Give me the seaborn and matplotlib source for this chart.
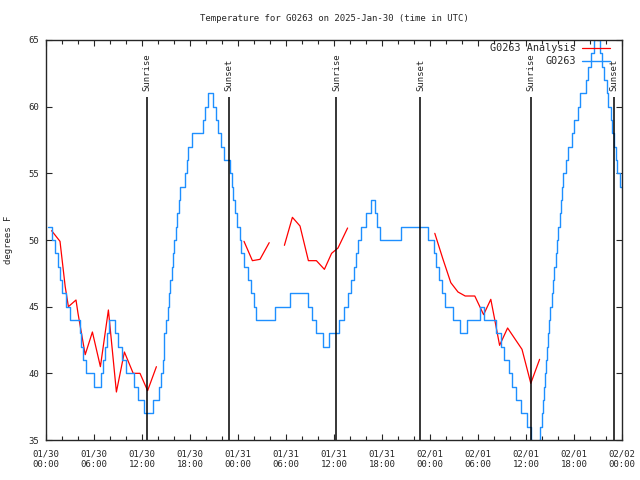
import numpy as np
import pandas as pd
import matplotlib
matplotlib.use("Agg")
import matplotlib.pyplot as plt
import seaborn as sns

# G0263 observations: change points (hours since 01/30 00:00 UTC, deg F)
obs_hours = [0.3, 0.7, 1.1, 1.5, 1.7, 2.0, 2.5, 3.0, 4.2, 4.4, 4.6, 5.0, 6.0, 6.9, 7.1,
             7.4, 7.6, 7.9, 8.6, 9.0, 9.5, 10.0, 11.0, 11.5, 12.3, 13.4, 14.1, 14.4, 14.6,
             14.8, 15.0, 15.2, 15.4, 15.5, 15.7, 15.9, 16.0, 16.2, 16.4, 16.6, 16.8, 17.4,
             17.6, 17.8, 18.3, 19.6, 19.9, 20.3, 20.9, 21.2, 21.5, 21.9, 22.3, 23.0, 23.2,
             23.4, 23.6, 23.9, 24.2, 24.4, 24.8, 25.2, 25.6, 26.0, 26.3, 28.6, 30.5, 32.7,
             33.2, 33.8, 34.6, 35.4, 36.6, 37.3, 37.7, 38.1, 38.5, 38.8, 39.0, 39.4, 40.0,
             40.6, 41.1, 41.4, 41.8, 44.4, 47.8, 48.5, 48.8, 49.1, 49.5, 49.9, 50.9, 51.8,
             52.6, 54.3, 54.8, 56.3, 56.9, 57.3, 57.9, 58.3, 58.7, 59.4, 60.1, 60.6, 60.8,
             61.6, 61.8, 61.95, 62.1, 62.3, 62.4, 62.5, 62.65, 62.75, 62.85, 63.0, 63.2,
             63.35, 63.5, 63.7, 63.85, 64.0, 64.2, 64.4, 64.5, 64.6, 65.0, 65.2, 65.7, 66.0,
             66.5, 66.8, 67.5, 67.8, 68.1, 68.5, 68.6, 68.9, 69.2, 69.5, 69.8, 70.1, 70.3,
             70.6, 70.8, 71.0, 71.2, 71.4, 71.7, 72.0]
obs_temps = [51, 50, 49, 48, 47, 46, 45, 44, 43, 42, 41, 40, 39, 40, 41,
             42, 43, 44, 43, 42, 41, 40, 39, 38, 37, 38, 39, 40, 41,
             43, 44, 45, 46, 47, 48, 49, 50, 51, 52, 53, 54, 55,
             56, 57, 58, 59, 60, 61, 60, 59, 58, 57, 56, 55, 54,
             53, 52, 51, 50, 49, 48, 47, 46, 45, 44, 45, 46, 45,
             44, 43, 42, 43, 44, 45, 46, 47, 48, 49, 50, 51, 52,
             53, 52, 51, 50, 51, 50, 49, 48, 47, 46, 45, 44, 43,
             44, 45, 44, 43, 42, 41, 40, 39, 38, 37, 36, 35, 34,
             35, 36, 37, 38, 39, 40, 41, 42, 43, 44, 45, 46,
             47, 48, 49, 50, 51, 52, 53, 54, 55, 56, 57, 58, 59,
             60, 61, 62, 63, 64, 65, 66, 65, 64, 63, 62, 61, 60,
             59, 58, 57, 56, 55, 54, 54]

# G0263 Analysis: hourly-ish points, split into segments where data is missing
ana_hours = [0.7, 1.75, 2.4, 2.8, 3.75, 4.0, 4.9, 5.8, 6.8, 7.8, 8.8, 9.8, 10.9, 11.75, 12.7, 13.8,
             24.75, 25.8, 26.75, 27.9,
             29.8, 30.8, 31.75, 32.8, 33.8, 34.8, 35.7, 36.5, 37.7,
             48.6, 49.6, 50.6, 51.5, 52.4, 53.6, 54.7, 55.6, 56.1, 56.7, 57.7, 59.5, 60.6, 61.7]
ana_temps = [50.7, 49.9, 46.5, 45.0, 45.5, 44.5, 41.4, 43.1, 40.5, 44.75, 38.6, 41.6, 40.0, 40.0, 38.7, 40.5,
             49.9, 48.45, 48.55, 49.8,
             49.6, 51.7, 51.05, 48.45, 48.45, 47.8, 49.0, 49.4, 50.9,
             50.5, 48.6, 46.8, 46.1, 45.8, 45.8, 44.4, 45.55, 44.0, 42.1, 43.4, 41.8, 39.25, 41.05]
ana_segment = [1] * 16 + [2] * 4 + [3] * 9 + [4] * 14

# sunrise / sunset times (hours)
event_hours = [12.67, 22.9, 36.3, 46.8, 60.6, 71.0]
event_names = ["Sunrise", "Sunset", "Sunrise", "Sunset", "Sunrise", "Sunset"]

tick_hours = [0, 6, 12, 18, 24, 30, 36, 42, 48, 54, 60, 66, 72]
tick_labels = ["01/30\n00:00", "01/30\n06:00", "01/30\n12:00", "01/30\n18:00",
               "01/31\n00:00", "01/31\n06:00", "01/31\n12:00", "01/31\n18:00",
               "02/01\n00:00", "02/01\n06:00", "02/01\n12:00", "02/01\n18:00",
               "02/02\n00:00"]

sns.set_style("ticks")
plt.rcParams["font.family"] = ["DejaVu Sans Mono"]
fs = 6.5

obs = pd.DataFrame({"hour": obs_hours, "temp": obs_temps})
ana = pd.DataFrame({"hour": ana_hours, "temp": ana_temps, "seg": ana_segment})

fig = plt.figure(figsize=(6.4, 4.8), dpi=100)
ax = fig.add_axes([46 / 640, 40 / 480, 576 / 640, 400 / 480])

sns.lineplot(data=ana, x="hour", y="temp", units="seg", estimator=None,
             color="red", lw=0.9, ax=ax, label="G0263 Analysis")
sns.lineplot(data=obs, x="hour", y="temp", color="#1e8fff", lw=1.0,
             drawstyle="steps-post", ax=ax, label="G0263")

for h, name in zip(event_hours, event_names):
    ax.vlines(h, 35, 60.7, color="black", lw=1.1)
    ax.text(h, 61.2, name, rotation=90, ha="center", va="bottom", fontsize=fs)

ax.set_xlim(0, 72)
ax.set_ylim(35, 65)
ax.set_xticks(tick_hours)
ax.set_xticklabels(tick_labels)
ax.set_xticks(np.arange(0, 73, 2), minor=True)
ax.set_yticks(range(35, 66, 5))
ax.tick_params(which="both", direction="in", top=True, right=True, labelsize=fs, width=0.8)
ax.tick_params(which="major", length=4.5)
ax.tick_params(which="minor", length=3)
ax.tick_params(axis="x", pad=7)
ax.tick_params(axis="y", pad=5)
for s in ax.spines.values():
    s.set_linewidth(1.0)

ax.set_xlabel("")
ax.set_ylabel("degrees F", fontsize=fs)
ax.yaxis.set_label_coords(-0.058, 0.5)
ax.set_title("Temperature for G0263 on 2025-Jan-30 (time in UTC)", fontsize=fs, pad=14)

# one legend entry per series (units create duplicates)
handles, labels = ax.get_legend_handles_labels()
uniq = dict(zip(labels, handles))
leg = ax.legend(list(uniq.values()), list(uniq.keys()), loc="upper right",
                bbox_to_anchor=(0.979, 0.992), frameon=False,
                markerfirst=False, fontsize=7.3, handlelength=2.75, handletextpad=0.6,
                labelspacing=0.3, borderaxespad=0, borderpad=0)

fig.savefig("out.png", dpi=100)
